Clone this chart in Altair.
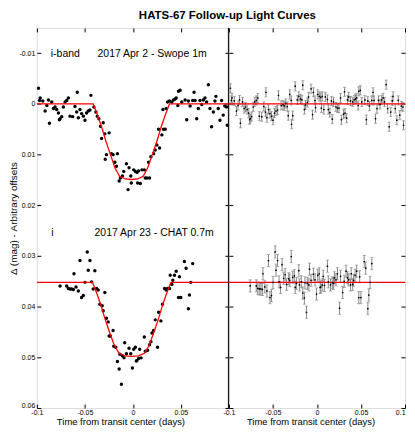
import altair as alt
import pandas as pd

# ---------------- data ----------------
# Swope 1m, i-band, 2017 Apr 2 (offset 0)
t_sw = [-0.0983, -0.0972, -0.0965, -0.0938, -0.0914, -0.0896, -0.0879, -0.0869, -0.0845, -0.0827,
        -0.0810, -0.0793, -0.0775, -0.0765, -0.0758, -0.0741, -0.0724, -0.0706, -0.0689, -0.0672,
        -0.0655, -0.0627, -0.0603, -0.0585, -0.0579, -0.0568, -0.0551, -0.0534, -0.0516, -0.0499,
        -0.0482, -0.0465, -0.0447, -0.0437, -0.0406, -0.0385, -0.0371, -0.0354, -0.0337, -0.0326,
        -0.0309, -0.0292, -0.0288, -0.0275, -0.0247, -0.0223, -0.0206, -0.0188, -0.0171, -0.0161,
        -0.0143, -0.0130, -0.0109, -0.0095, -0.0067, -0.0050, -0.0040, -0.0022, -0.0016, 0.0009,
        0.0026, 0.0043, 0.0050, 0.0060, 0.0078, 0.0095, 0.0119, 0.0129, 0.0147, 0.0164,
        0.0174, 0.0188, 0.0216, 0.0233, 0.0250, 0.0268, 0.0278, 0.0302, 0.0313, 0.0319,
        0.0337, 0.0347, 0.0361, 0.0382, 0.0406, 0.0423, 0.0440, 0.0451, 0.0468, 0.0475,
        0.0492, 0.0509, 0.0544, 0.0561, 0.0578, 0.0596, 0.0623, 0.0637, 0.0648, 0.0665,
        0.0682, 0.0699, 0.0717, 0.0734, 0.0751, 0.0768, 0.0786, 0.0803, 0.0820, 0.0838,
        0.0855, 0.0865, 0.0889, 0.0907, 0.0924, 0.0941, 0.0958, 0.0976, 0.0983]
m_sw = [-0.0031, -0.0007, -0.0012, -0.0006, 0.0014, 0.0003, -0.0008, 0.0038, -0.0004, 0.0009,
        0.0006, 0.0011, 0.0018, 0.0031, 0.0029, 0.0025, 0.0006, -0.0004, -0.0007, -0.0012,
        0.0024, 0.0025, 0.0005, 0.0016, -0.0023, 0.0027, 0.0011, 0.0019, 0.0024, 0.0032,
        0.0018, 0.0014, 0.0012, -0.0017, 0.0006, 0.0016, 0.0024, 0.0029, 0.0044, 0.0068,
        0.0037, 0.0059, 0.0109, 0.0100, 0.0057, 0.0098, 0.0100, 0.0115, 0.0123, 0.0098,
        0.0152, 0.0146, 0.0142, 0.0133, 0.0118, 0.0169, 0.0126, 0.0142, 0.0156, 0.0130,
        0.0133, 0.0135, 0.0156, 0.0132, 0.0157, 0.0130, 0.0130, 0.0146, 0.0146, 0.0115,
        0.0146, 0.0104, 0.0098, 0.0091, 0.0081, 0.0050, 0.0087, 0.0061, 0.0011, 0.0050,
        0.0050, 0.0009, -0.0004, -0.0006, -0.0004, -0.0008, -0.0010, -0.0012, 0.0003, -0.0025,
        -0.0027, -0.0004, -0.0008, 0.0031, -0.0006, 0.0004, -0.0007, -0.0023, -0.0007, 0.0029,
        0.0009, -0.0007, 0.0001, -0.0008, -0.0012, -0.0004, -0.0038, 0.0009, 0.0045, 0.0016,
        -0.0006, -0.0015, 0.0009, 0.0032, -0.0007, 0.0022, 0.0004, 0.0006, 0.0042]
r_sw = [-0.0031, -0.0007, -0.0012, -0.0006, 0.0014, 0.0003, -0.0008, 0.0038, -0.0004, 0.0009,
        0.0006, 0.0011, 0.0018, 0.0031, 0.0029, 0.0025, 0.0006, -0.0004, -0.0007, -0.0012,
        0.0024, 0.0025, 0.0005, 0.0016, -0.0023, 0.0027, 0.0011, 0.0019, 0.0024, 0.0032,
        0.0018, 0.0014, 0.0012, -0.0017, 0.0003, 0.0002, 0.0004, -0.0001, 0.0005, 0.0023,
        -0.0019, -0.0007, 0.0040, 0.0023, -0.0035, -0.0008, -0.0015, -0.0010, -0.0008, -0.0037,
        0.0011, 0.0002, -0.0003, -0.0014, -0.0030, 0.0021, -0.0023, -0.0007, 0.0007, -0.0019,
        -0.0015, -0.0013, 0.0008, -0.0015, 0.0011, -0.0014, -0.0009, 0.0011, 0.0017, -0.0006,
        0.0030, -0.0004, 0.0006, 0.0008, 0.0008, -0.0012, 0.0031, 0.0020, -0.0024, 0.0018,
        0.0028, -0.0008, -0.0014, -0.0006, -0.0004, -0.0008, -0.0010, -0.0012, 0.0003, -0.0025,
        -0.0027, -0.0004, -0.0008, 0.0031, -0.0006, 0.0004, -0.0007, -0.0023, -0.0007, 0.0029,
        0.0009, -0.0007, 0.0001, -0.0008, -0.0012, -0.0004, -0.0038, 0.0009, 0.0045, 0.0016,
        -0.0006, -0.0015, 0.0009, 0.0032, -0.0007, 0.0022, 0.0004, 0.0006, 0.0042]

# CHAT 0.7m, i, 2017 Apr 23 (offset 0.0352)
t_ch = [-0.0758, -0.0689, -0.0672, -0.0655, -0.0637, -0.0620, -0.0613, -0.0592, -0.0568, -0.0551,
        -0.0534, -0.0516, -0.0499, -0.0475, -0.0465, -0.0447, -0.0430, -0.0413, -0.0396, -0.0378,
        -0.0361, -0.0344, -0.0320, -0.0309, -0.0292, -0.0275, -0.0257, -0.0247, -0.0233, -0.0206,
        -0.0199, -0.0178, -0.0161, -0.0143, -0.0136, -0.0119, -0.0109, -0.0092, -0.0085, -0.0067,
        -0.0040, -0.0022, -0.0005, 0.0009, 0.0026, 0.0036, 0.0043, 0.0060, 0.0071, 0.0085,
        0.0119, 0.0129, 0.0154, 0.0174, 0.0188, 0.0199, 0.0216, 0.0233, 0.0257, 0.0268,
        0.0292, 0.0309, 0.0330, 0.0347, 0.0361, 0.0382, 0.0389, 0.0406, 0.0416, 0.0433,
        0.0451, 0.0475, 0.0485, 0.0499, 0.0537, 0.0554, 0.0578, 0.0589, 0.0603, 0.0623]
m_ch = [0.0359, 0.0359, 0.0364, 0.0365, 0.0365, 0.0366, 0.0335, 0.0361, 0.0369, 0.0309,
        0.0382, 0.0378, 0.0352, 0.0292, 0.0328, 0.0309, 0.0351, 0.0365, 0.0329, 0.0364,
        0.0367, 0.0395, 0.0398, 0.0408, 0.0372, 0.0423, 0.0430, 0.0458, 0.0458, 0.0447,
        0.0478, 0.0480, 0.0508, 0.0523, 0.0494, 0.0553, 0.0497, 0.0501, 0.0471, 0.0493,
        0.0482, 0.0493, 0.0521, 0.0484, 0.0480, 0.0507, 0.0506, 0.0502, 0.0484, 0.0501,
        0.0460, 0.0488, 0.0486, 0.0475, 0.0469, 0.0452, 0.0447, 0.0426, 0.0480, 0.0411,
        0.0428, 0.0395, 0.0364, 0.0367, 0.0364, 0.0364, 0.0338, 0.0356, 0.0348, 0.0338,
        0.0330, 0.0382, 0.0341, 0.0382, 0.0311, 0.0324, 0.0404, 0.0377, 0.0352, 0.0315]
r_ch = [0.0007, 0.0007, 0.0012, 0.0013, 0.0013, 0.0014, -0.0017, 0.0009, 0.0017, -0.0043,
        0.0030, 0.0026, 0.0000, -0.0060, -0.0024, -0.0043, -0.0001, 0.0010, -0.0035, -0.0008,
        -0.0015, 0.0004, -0.0007, -0.0004, -0.0051, -0.0010, -0.0013, 0.0010, 0.0002, -0.0023,
        0.0005, -0.0001, 0.0021, 0.0031, 0.0001, 0.0059, 0.0002, 0.0005, -0.0026, -0.0004,
        -0.0016, -0.0005, 0.0023, -0.0014, -0.0017, 0.0010, 0.0009, 0.0005, -0.0012, 0.0006,
        -0.0032, -0.0001, 0.0005, 0.0001, 0.0002, -0.0009, -0.0005, -0.0017, 0.0051, -0.0012,
        0.0020, -0.0002, -0.0022, -0.0009, -0.0005, 0.0005, -0.0017, 0.0004, -0.0004, -0.0014,
        -0.0022, 0.0030, -0.0011, 0.0030, -0.0041, -0.0028, 0.0052, 0.0025, 0.0000, -0.0037]

# transit model curves (vertices)
mod_t_sw = [-0.1, -0.0413, -0.0368, -0.0326, -0.0280, -0.0233, -0.0187, -0.0137, -0.0078, -0.0016,
            0.0047, 0.0106, 0.0155, 0.0202, 0.0249, 0.0295, 0.0337, 0.0381, 0.1]
mod_m_sw = [0.0, 0.0, 0.0022, 0.0045, 0.0074, 0.0100, 0.0126, 0.0143, 0.0148, 0.0149,
            0.0148, 0.0143, 0.0126, 0.0100, 0.0074, 0.0045, 0.0022, 0.0, 0.0]
mod_t_ch = [-0.1, -0.0420, -0.0375, -0.0333, -0.0287, -0.0240, -0.0194, -0.0144, -0.0082, -0.0012,
            0.0058, 0.0120, 0.0170, 0.0216, 0.0263, 0.0309, 0.0351, 0.0396, 0.1]
mod_m_ch = [0.0352, 0.0352, 0.0374, 0.0397, 0.0426, 0.0452, 0.0476, 0.0492, 0.0497, 0.0498,
            0.0497, 0.0492, 0.0476, 0.0452, 0.0426, 0.0397, 0.0374, 0.0352, 0.0352]

off_sw, off_ch = 0.0, 0.0352
err_sw, err_ch = 0.0009, 0.0012

x_ticks = [-0.1, -0.05, 0, 0.05, 0.1]
y_ticks = [-0.01, 0, 0.01, 0.02, 0.03, 0.04, 0.05, 0.06]

title_text = "HATS-67 Follow-up Light Curves"
x_title = "Time from transit center (days)"
y_title = "\u0394 (mag) - Arbitrary offsets"
notes = ["i-band", "2017 Apr 2 - Swope 1m", "i", "2017 Apr 23 - CHAT 0.7m"]

# ---------------- tables ----------------
pts = pd.DataFrame({"t": t_sw + t_ch, "m": m_sw + m_ch,
                    "set": ["sw"] * len(t_sw) + ["ch"] * len(t_ch)})
mods = pd.DataFrame({"t": mod_t_sw + mod_t_ch, "m": mod_m_sw + mod_m_ch,
                     "set": ["sw"] * len(mod_t_sw) + ["ch"] * len(mod_t_ch),
                     "i": list(range(len(mod_t_sw))) + list(range(len(mod_t_ch)))})
res = pd.DataFrame({"t": t_sw + t_ch,
                    "r": [off_sw + v for v in r_sw] + [off_ch + v for v in r_ch],
                    "e": [err_sw] * len(t_sw) + [err_ch] * len(t_ch)})
res["lo"] = res["r"] - res["e"]
res["hi"] = res["r"] + res["e"]
offs = pd.DataFrame({"off": [off_sw, off_ch]})
one = pd.DataFrame({"k": [0]})

FONT = "Liberation Sans"
XS = alt.Scale(domain=[-0.1, 0.1], nice=False, zero=False)
YS = alt.Scale(domain=[-0.015, 0.06], reverse=True, nice=False, zero=False)


def axis(orient, values, labels=True, **kw):
    base = dict(orient=orient, values=values, labels=labels, tickSize=4, offset=-4,
                domain=False, grid=False, tickColor="black", tickWidth=1,
                labelFont=FONT, labelFontSize=7, labelColor="black",
                labelExpr="'' + datum.value",
                titleFont=FONT, titleFontSize=9.5, titleFontWeight="normal",
                titleColor="black")
    base.update(kw)
    return alt.Axis(**base)


W_L, W_R, H = 193, 177, 382

# ---------------- left panel ----------------
l_pts = alt.Chart(pts).mark_circle(size=12, color="black", opacity=1).encode(
    x=alt.X("t:Q", scale=XS, title=x_title,
            axis=axis("bottom", x_ticks, labelFlush=False, labelPadding=0,
                      labelExpr="datum.value == 0.1 ? '' : '' + datum.value",
                      titleX=84, titleY=21, titleBaseline="alphabetic")),
    y=alt.Y("m:Q", scale=YS, title=y_title,
            axis=axis("left", y_ticks, labelPadding=2, titlePadding=0, titleFontSize=10,
                      labelOffset={"condition": {"test": "datum.value == 0.06", "value": -3},
                                   "value": 0})),
)
l_mod = alt.Chart(mods).mark_line(color="red", strokeWidth=1.3).encode(
    x=alt.X("t:Q", scale=XS, title=None, axis=axis("top", x_ticks, labels=False)),
    y=alt.Y("m:Q", scale=YS, title=None, axis=axis("right", y_ticks, labels=False)),
    detail="set:N", order="i:Q",
)
# heavier frame line between the two panels
divider = alt.Chart(one).mark_rule(color="black", strokeWidth=2).encode(
    x=alt.value(W_L), y=alt.value(0), y2=alt.value(H))


def note(txt, px, py, size=10.5, weight="normal", align="left", baseline="alphabetic"):
    return alt.Chart(one).mark_text(text=txt, font=FONT, fontSize=size, fontWeight=weight,
                                    align=align, baseline=baseline, color="black",
                                    fill="black").encode(
        x=alt.value(px), y=alt.value(py))


left = alt.layer(
    l_pts, l_mod, divider,
    note(notes[0], 14, 29), note(notes[1], 61, 29),
    note(notes[2], 14.5, 209), note(notes[3], 58, 209),
    note(title_text, 191.5, -18, size=11.5, weight="bold", align="center", baseline="top"),
).resolve_axis(x="independent", y="independent").properties(width=W_L, height=H)

# ---------------- right panel ----------------
r_bar = alt.Chart(res).mark_rule(color="#8a8a8a", strokeWidth=1).encode(
    x=alt.X("t:Q", scale=XS, title=x_title,
            axis=axis("bottom", x_ticks, labelFlush=False, labelPadding=0,
                      labelAlign={"condition": {"test": "datum.value == 0.1", "value": "right"},
                                  "value": "center"},
                      titleX=82, titleY=21, titleBaseline="alphabetic")),
    y=alt.Y("lo:Q", scale=YS, title=None, axis=axis("left", y_ticks, labels=False)),
    y2="hi:Q",
)
r_cap_lo = alt.Chart(res).mark_tick(orient="horizontal", size=3, thickness=1, color="#8a8a8a").encode(
    x=alt.X("t:Q", scale=XS, axis=None), y=alt.Y("lo:Q", scale=YS, axis=None))
r_cap_hi = alt.Chart(res).mark_tick(orient="horizontal", size=3, thickness=1, color="#8a8a8a").encode(
    x=alt.X("t:Q", scale=XS, axis=None), y=alt.Y("hi:Q", scale=YS, axis=None))
r_zero = alt.Chart(offs).mark_rule(color="red", strokeWidth=1.3).encode(
    y=alt.Y("off:Q", scale=YS, axis=None))
r_dot = alt.Chart(res).mark_circle(size=3, color="black", opacity=1).encode(
    x=alt.X("t:Q", scale=XS, title=None, axis=axis("top", x_ticks, labels=False)),
    y=alt.Y("r:Q", scale=YS, title=None, axis=axis("right", y_ticks, labels=False)),
)

right = alt.layer(r_bar, r_cap_lo, r_cap_hi, r_zero, r_dot).resolve_axis(
    x="independent", y="independent").properties(width=W_R, height=H)

chart = alt.hconcat(left, right, spacing=0, bounds="flush").properties(
    padding={"left": 0, "top": 0, "right": 0, "bottom": 0},
).configure_view(stroke="black", strokeWidth=1).configure(background="white")

chart.save("out.html", embed_options={"renderer": "svg", "actions": False})
